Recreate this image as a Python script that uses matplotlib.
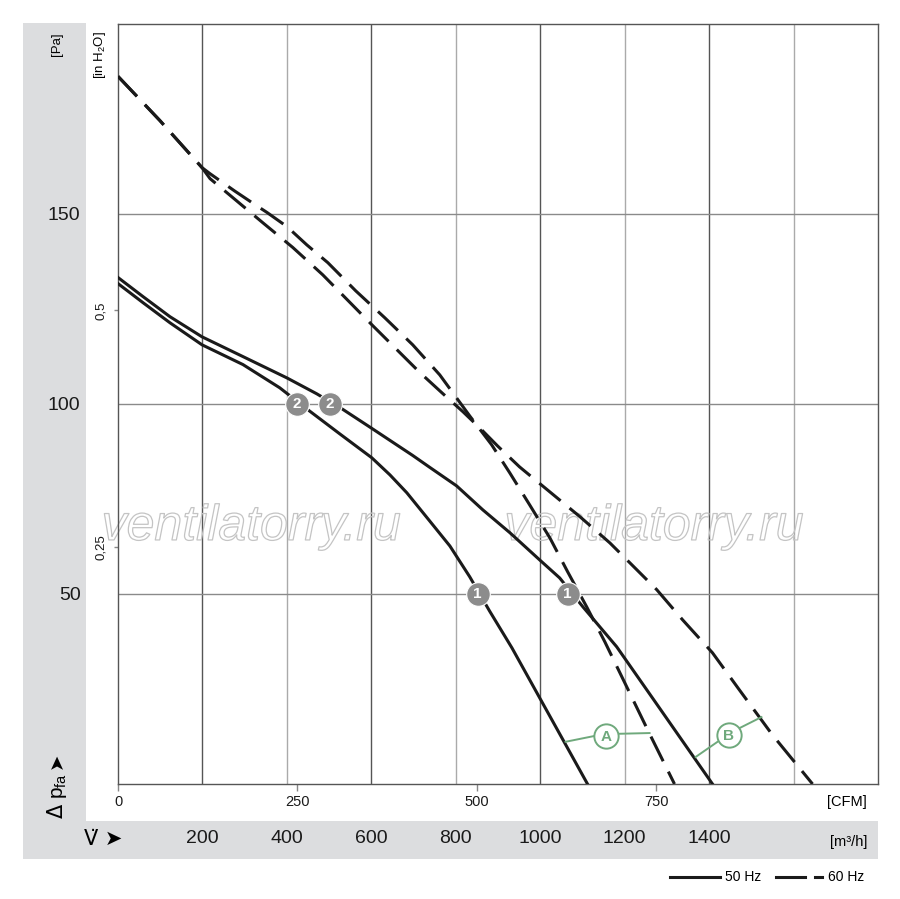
import numpy as np
import matplotlib
matplotlib.use("Agg")
import matplotlib.pyplot as plt
import matplotlib.patheffects as pe
from matplotlib.patches import Rectangle

plt.rcParams['font.family'] = ['Liberation Sans', 'DejaVu Sans']

# flow in m3/h, pressure in Pa
a50_q = [0, 59, 123, 199, 296, 383, 450, 525, 601, 644, 684, 738, 786, 833, 880, 933, 1058, 1112]
a50_p = [131.6, 126.6, 121.3, 115.5, 110.3, 104.2, 98.4, 92.1, 85.8, 81.3, 76.6, 69.2, 62.6, 54.5, 45.5, 35.8, 10.8, 0]

b50_q = [0, 59, 123, 199, 296, 400, 471, 530, 596, 698, 738, 802, 864, 928, 999, 1046, 1101, 1181, 1266, 1408]
b50_p = [133.2, 128.2, 122.9, 117.6, 112.4, 106.8, 102.6, 98.7, 93.9, 86.4, 83.3, 78.4, 72.1, 66.1, 58.9, 54.2, 46.6, 36.1, 22.6, 0]

a60_q = [0, 99, 199, 218, 277, 324, 353, 400, 447, 497, 563, 632, 698, 762, 833, 885,
         928, 975, 1023, 1065, 1110, 1153, 1259, 1318]
a60_p = [186.1, 174.5, 162.1, 160.5, 155.9, 152.4, 150.3, 146.6, 141.8, 137.1, 129.7, 122.6, 115.5, 107.6, 96.8, 89.2,
         81.8, 73.4, 64.7, 55.8, 46.6, 37.4, 13.2, 0]

b60_q = [0, 99, 199, 218, 272, 343, 414, 485, 601, 715, 767, 817, 859, 899, 951, 1023,
         1094, 1165, 1212, 1276, 1337, 1408, 1472, 1550, 1645]
b60_p = [186.1, 174.5, 162.1, 159.2, 154.2, 147.6, 141.1, 133.9, 120.8, 108.2, 102.9, 97.9, 93.4, 88.9, 83.4, 76.8,
         70.3, 63.4, 58.2, 51.1, 43.2, 34.5, 24.7, 12.9, 0]

# operating point markers
mark_labels = ['2', '2', '1', '1']
mark_q = [424, 502, 852, 1065]
mark_p = [100, 100, 50, 50]

m3h_ticks = [200, 400, 600, 800, 1000, 1200, 1400]
grid_x = [200, 400, 600, 800, 1000, 1200, 1400, 1600]
grid_y = [50, 100, 150]
pa_ticks = [50, 100, 150]
cfm_ticks = [0, 250, 500, 750]
inh2o_ticks = [0.25, 0.5]
inh2o_labels = ['0,25', '0,5']

W, H = 900, 899
fig = plt.figure(figsize=(9, 8.99), dpi=100)

band = '#dcdddf'
fig.add_artist(Rectangle((23 / W, 1 - 859 / H), (86 - 23) / W, (859 - 23) / H,
                         transform=fig.transFigure, color=band, lw=0, zorder=0))
fig.add_artist(Rectangle((86 / W, 1 - 859 / H), (878 - 86) / W, (859 - 821) / H,
                         transform=fig.transFigure, color=band, lw=0, zorder=0))

ax = fig.add_axes([118 / W, 1 - 784 / H, (878 - 118) / W, (784 - 23.5) / H])
ax.set_xlim(0, 1800)
ax.set_ylim(0, 200)
ax.patch.set_alpha(0)

for i, g in enumerate(grid_x):
    ax.axvline(g, color='#555555' if i % 2 == 0 else '#aaaaaa', lw=1, zorder=1)
for g in grid_y:
    ax.axhline(g, color='#8a8a8a', lw=1, zorder=1)
for s in ax.spines.values():
    s.set_color('#555555')
    s.set_linewidth(1)

# watermark
for xc in [0.175, 0.705]:
    ax.text(xc, 0.338, 'ventilatorry.ru', transform=ax.transAxes, ha='center', va='center',
            fontsize=36, style='italic', color=(1, 1, 1, 0),
            path_effects=[pe.withStroke(linewidth=0.9, foreground='#c4c4c4')], zorder=1.5)

lw = 2.2
ax.plot(a50_q, a50_p, color='#1a1a1a', lw=lw, zorder=3)
ax.plot(b50_q, b50_p, color='#1a1a1a', lw=lw, zorder=3)
ax.plot(a60_q, a60_p, color='#1a1a1a', lw=lw, dashes=(9, 3.8), zorder=3)
ax.plot(b60_q, b60_p, color='#1a1a1a', lw=lw, dashes=(9, 3.8), zorder=3)

for lab, q, p in zip(mark_labels, mark_q, mark_p):
    ax.plot(q, p, 'o', ms=17, color='#8c8c8c', mec='white', mew=0.8, zorder=4)
    ax.text(q, p, lab, color='white', fontsize=11, fontweight='bold',
            ha='center', va='center', zorder=5)

# curve identifiers
green = '#6fa97c'
ann = {'A': ((1155, 12.6), [(1060, 11.1), (1127, 12.6)], [(1184, 13.2), (1259, 13.4)]),
       'B': ((1446, 12.9), [(1368, 7.1), (1420, 11.1)], [(1472, 14.7), (1524, 17.6)])}
for lab, (c, seg1, seg2) in ann.items():
    for seg in (seg1, seg2):
        ax.plot([seg[0][0], seg[1][0]], [seg[0][1], seg[1][1]], color=green, lw=1.4, zorder=3)
    ax.plot(c[0], c[1], 'o', ms=17.5, mfc='white', mec=green, mew=1.4, zorder=4)
    ax.text(c[0], c[1] - 0.2, lab, color=green, fontsize=11, fontweight='bold',
            ha='center', va='center', zorder=5)

ax.set_xticks(m3h_ticks)
ax.set_xticklabels([str(t) for t in m3h_ticks], fontsize=14, color='#1a1a1a')
ax.tick_params(axis='x', length=0, pad=33)
ax.set_yticks(pa_ticks)
ax.set_yticklabels([str(t) for t in pa_ticks], fontsize=14, color='#1a1a1a')
ax.tick_params(axis='y', length=0, pad=27)

sec = ax.secondary_xaxis('bottom', functions=(lambda x: x / 1.699, lambda x: x * 1.699))
sec.set_xticks(cfm_ticks)
sec.set_xticklabels([str(t) for t in cfm_ticks], fontsize=10.5, color='#1a1a1a')
sec.tick_params(axis='x', length=5, width=1, color='#888888', pad=3)
sec.spines['bottom'].set_visible(False)

secy = ax.secondary_yaxis('left', functions=(lambda p: p / 249.09, lambda h: h * 249.09))
secy.set_yticks(inh2o_ticks)
secy.set_yticklabels(inh2o_labels, fontsize=9.5, rotation=90, va='center', color='#1a1a1a')
secy.tick_params(axis='y', length=3, width=1, color='#888888', pad=5)
secy.spines['left'].set_visible(False)

fig.text(57 / W, 1 - 44 / H, '[Pa]', rotation=90, ha='center', va='center', fontsize=9.5)
fig.text(100 / W, 1 - 55 / H, '[in H$_\\mathregular{2}$O]', rotation=90, ha='center', va='center', fontsize=9.5)
fig.text(57 / W, 1 - 796 / H, r'$\Delta$ p$_{\mathregular{fa}}$', rotation=90, ha='center',
         va='center', fontsize=15)
fig.text(57 / W, 1 - 761 / H, '➤', rotation=90, ha='center', va='center', fontsize=14,
         family=['DejaVu Sans'])
fig.text(103 / W, 1 - 839 / H, 'V̇ ➤', ha='center', va='center', fontsize=15,
         family=['DejaVu Sans'])
fig.text(867 / W, 1 - 802 / H, '[CFM]', ha='right', va='center', fontsize=10.5)
fig.text(867 / W, 1 - 842 / H, '[m³/h]', ha='right', va='center', fontsize=10.5)

# legend
ly = 1 - 877 / H
fig.add_artist(plt.Line2D([670 / W, 720 / W], [ly, ly], color='#1a1a1a', lw=2.2))
fig.text(725 / W, ly, '50 Hz', ha='left', va='center', fontsize=10)
fig.add_artist(plt.Line2D([776 / W, 805 / W], [ly, ly], color='#1a1a1a', lw=2.2))
fig.add_artist(plt.Line2D([815 / W, 822 / W], [ly, ly], color='#1a1a1a', lw=2.2))
fig.text(828 / W, ly, '60 Hz', ha='left', va='center', fontsize=10)

fig.savefig('out.png', dpi=100)
